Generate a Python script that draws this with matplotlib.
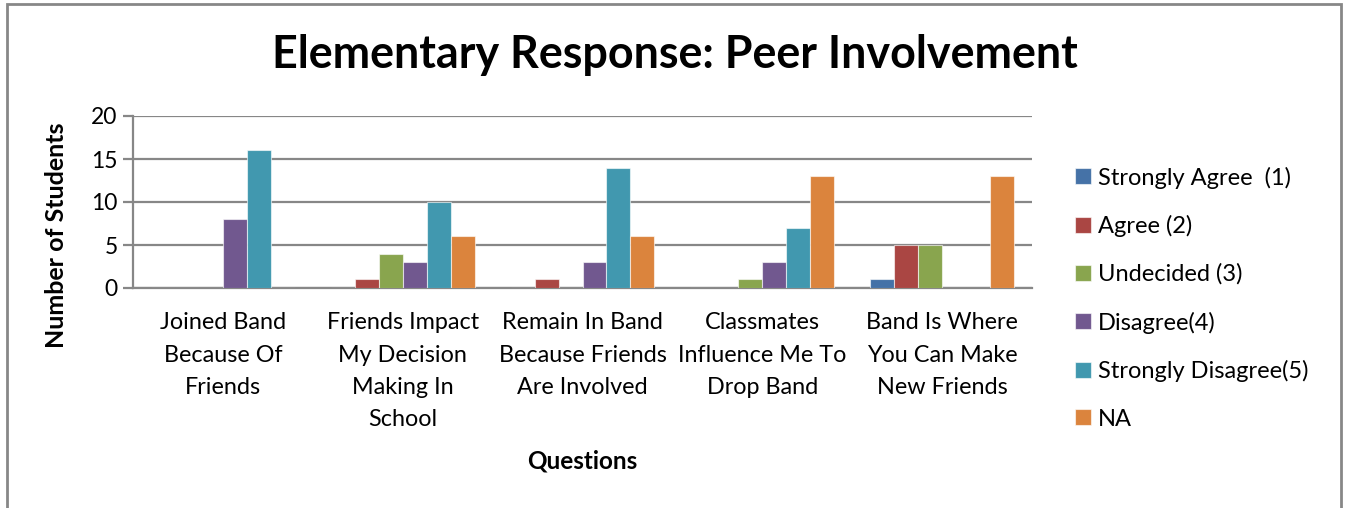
import matplotlib

matplotlib.use("Agg")

import matplotlib.pyplot as plt
import numpy as np
from matplotlib.patches import Rectangle

plt.rcParams["font.family"] = ["Lato", "DejaVu Sans"]

questions = [
    "Joined Band\nBecause Of\nFriends",
    "Friends Impact\nMy Decision\nMaking In\nSchool",
    "Remain In Band\nBecause Friends\nAre Involved",
    "Classmates\nInfluence Me To\nDrop Band",
    "Band Is Where\nYou Can Make\nNew Friends",
]
responses = [
    "Strongly Agree  (1)",
    "Agree (2)",
    "Undecided (3)",
    "Disagree(4)",
    "Strongly Disagree(5)",
    "NA",
]
strongly_agree = [0, 0, 0, 0, 1]
agree = [0, 1, 1, 0, 5]
undecided = [0, 4, 0, 1, 5]
disagree = [8, 3, 3, 3, 0]
strongly_disagree = [16, 10, 14, 7, 0]
not_applicable = [0, 6, 6, 13, 13]
y_ticks = [0, 5, 10, 15, 20]

series = [strongly_agree, agree, undecided, disagree, strongly_disagree, not_applicable]
colors = ["#4572A7", "#AA4643", "#89A54E", "#71588F", "#4198AF", "#DB843D"]
grey = "#878787"

fig = plt.figure(figsize=(13.47, 5.08), dpi=100)
ax = fig.add_axes([133 / 1347, 1 - 288 / 508, (1032 - 133) / 1347, (288 - 116) / 508])

# outer chart frame (open at the bottom edge of the image)
fig.patches.append(Rectangle((7 / 1347, -0.05), (1341 - 7) / 1347, 1.05 - 4 / 508,
                             transform=fig.transFigure, fill=False,
                             edgecolor=grey, linewidth=2))

x = np.arange(len(questions))
width = 1 / 7.5
for j, (vals, name, color) in enumerate(zip(series, responses, colors)):
    ax.bar(x + (j - 2.5) * width, vals, width, color=color, label=name,
           edgecolor=(1, 1, 1, 0.6), linewidth=0.8, zorder=3)

ax.set_xlim(-0.5, len(questions) - 0.5)
ax.set_ylim(0, 20)
ax.set_yticks(y_ticks)
ax.yaxis.grid(True, color=grey, linewidth=1.6, zorder=0)
ax.set_axisbelow(True)
for side in ("top", "right"):
    ax.spines[side].set_visible(False)
for side in ("left", "bottom"):
    ax.spines[side].set_color(grey)
    ax.spines[side].set_linewidth(1.6)
ax.tick_params(axis="y", length=7, width=1.6, color=grey, labelsize=16.5, pad=4)
ax.set_xticks(x)
ax.set_xticklabels(questions, fontsize=16.8, linespacing=1.66, va="top")
ax.tick_params(axis="x", length=0, pad=17.5)

ax.set_ylabel("Number of Students", fontsize=18, fontweight="bold")
ax.yaxis.set_label_coords(-0.0723, 0.308)
ax.set_xlabel("Questions", fontsize=17.5, fontweight="bold", labelpad=14)
fig.text(675 / 1347, 1 - 55 / 508, "Elementary Response: Peer Involvement",
         ha="center", va="center", fontsize=32.3, fontweight="bold")

ax.legend(loc="upper left", bbox_to_anchor=(1066 / 1347, 1 - 157 / 508),
          bbox_transform=fig.transFigure, frameon=False, fontsize=17,
          handlelength=0.65, handleheight=0.65, handletextpad=0.3,
          labelspacing=1.12, borderaxespad=0)

fig.savefig("out.png", dpi=100)
